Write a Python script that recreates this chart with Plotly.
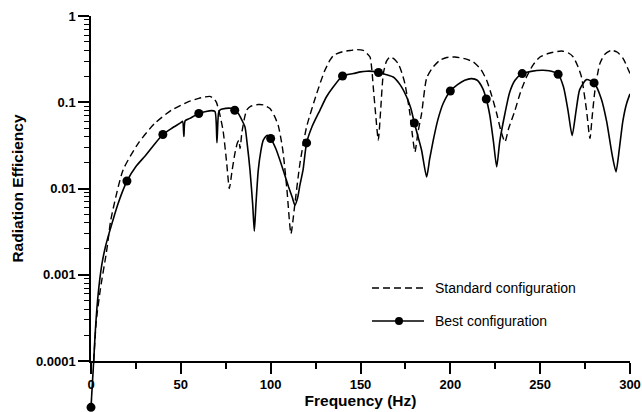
import math
import plotly.graph_objects as go

# ---------------- data ----------------
best_freq = [0, 1.5, 2.5, 4, 6, 8, 10, 12.5, 15, 17.5, 20, 25, 30, 35, 40, 45, 50, 51, 51.7, 52.4,
             55, 60, 64, 67, 69, 70.1, 71, 72, 75, 78, 80, 82, 84, 85.7, 87, 88.5, 90, 90.9, 91.8,
             93.1, 94.5, 95.9, 98, 100, 103, 107, 110, 112, 113.5, 115, 116.3, 118, 120, 123,
             127.4, 131, 134.8, 140, 143, 146, 150, 153.4, 157, 160, 164, 168.2, 172, 175.7, 178,
             180, 182, 184, 186.8, 188.5, 190.5, 193, 196, 200, 204, 208, 211.8, 215, 218, 220,
             222, 224, 225.8, 227.5, 230.4, 233, 236, 240, 245, 250.8, 255, 260, 263, 265.5,
             267.8, 270, 272, 275.8, 280, 284, 287, 290, 292.2, 294, 296, 298, 300]
best_eff = [2.9e-5, 1.0e-4, 2.4e-4, 6.0e-4, 1.3e-3, 2.1e-3, 3.0e-3, 4.5e-3, 6.6e-3, 9.2e-3, 0.0122,
            0.018, 0.0237, 0.032, 0.0423, 0.050, 0.058, 0.060, 0.040, 0.061,
            0.065, 0.074, 0.078, 0.080, 0.078, 0.034, 0.075, 0.082, 0.085, 0.085, 0.0807, 0.074,
            0.062, 0.0518, 0.032, 0.0163, 0.0065, 0.0032, 0.0065,
            0.0163, 0.027, 0.0363, 0.0415, 0.038, 0.0285, 0.0163, 0.0104, 0.0079, 0.0064, 0.0078,
            0.011, 0.0163, 0.0338, 0.052,
            0.0807, 0.115, 0.150, 0.2018, 0.21, 0.215, 0.225, 0.229, 0.228, 0.221, 0.21, 0.196,
            0.16, 0.115, 0.085,
            0.0575, 0.040, 0.0278, 0.0136, 0.022, 0.0363, 0.062, 0.0966, 0.135, 0.16, 0.18, 0.188,
            0.18, 0.145, 0.109,
            0.07, 0.035, 0.0178, 0.035, 0.074, 0.13, 0.18, 0.215, 0.228, 0.235, 0.232, 0.211,
            0.15, 0.08,
            0.041, 0.08, 0.14, 0.183, 0.1675, 0.11, 0.06, 0.025, 0.0156, 0.028, 0.06, 0.095, 0.125]

best_marker_freq = [0, 20, 40, 60, 80, 100, 120, 140, 160, 180, 200, 220, 240, 260, 280]
best_marker_eff = [2.9e-5, 0.0122, 0.0423, 0.074, 0.0807, 0.038, 0.0338, 0.2018, 0.221,
                   0.0575, 0.135, 0.109, 0.215, 0.211, 0.1675]

std_freq = [1.5, 3, 5.4, 8.5, 9.5, 11, 17.8, 26.2, 35.4, 44.7, 54, 60, 63.3, 66, 68, 69.7, 71.5,
            73.5, 75.5, 77, 78.5, 80.1, 81.5, 82.3, 83, 84, 86.6, 89, 93.1, 96, 99.6, 102, 104.2,
            106, 107, 109, 111.3, 113.5, 116.3, 120, 125.6, 130, 133, 135, 140, 145, 148, 151.5,
            153.5, 155.3, 156.3, 157.1, 158.5, 159.9, 161.2, 162.7, 164.5, 166.4, 168.5, 171,
            173, 174.7, 177.5, 179, 180.3, 182, 184, 186.8, 190, 194.2, 198, 202.6, 208, 212.8,
            217, 220.2, 223, 225.8, 228, 230.4, 232.5, 236, 239, 242.4, 246, 249.9, 255, 262,
            266, 268.4, 271, 273, 275.8, 277.7, 279, 280.5, 283.2, 286, 289.7, 293, 296.2, 300]
std_eff = [1.0e-4, 3.0e-4, 7.2e-4, 1.77e-3, 2.5e-3, 4.3e-3, 0.0163, 0.0332, 0.0567, 0.0807, 0.101,
           0.111, 0.115, 0.117, 0.112, 0.101, 0.075,
           0.047, 0.020, 0.0100, 0.016, 0.0255, 0.034, 0.036, 0.029, 0.045, 0.0807, 0.090, 0.094,
           0.093, 0.0845, 0.07, 0.054,
           0.035, 0.0255, 0.010, 0.0030, 0.0067, 0.0195, 0.0518, 0.126, 0.23, 0.307, 0.35, 0.385,
           0.40, 0.408, 0.40,
           0.37, 0.335, 0.24, 0.15, 0.07, 0.0363, 0.08, 0.215, 0.30, 0.335, 0.32, 0.28,
           0.22, 0.165, 0.074, 0.04, 0.0265, 0.045, 0.074, 0.19, 0.25, 0.307, 0.33, 0.335, 0.32,
           0.293,
           0.24, 0.18, 0.12, 0.074, 0.048, 0.0347, 0.05, 0.0807, 0.13, 0.196, 0.27, 0.335, 0.37,
           0.393,
           0.37, 0.335, 0.26, 0.196, 0.0807, 0.038, 0.07, 0.138, 0.28, 0.36, 0.40, 0.38, 0.32,
           0.215]

y_tick_vals = [1e-4, 1e-3, 1e-2, 1e-1, 1]
y_tick_text = ["0.0001", "0.001", "0.01", "0.1", "1"]
series_names = ["Standard configuration", "Best configuration"]
x_title = "Frequency (Hz)"
y_title = "Radiation Efficiency"

# ---------------- layout constants ----------------
W, H = 642, 412
ML, MR, MT, MB = 91, 12, 16, 51
X_RANGE = [0, 300]
Y_RANGE = [-4, 0]
FONT = "Liberation Sans, Arial, sans-serif"
MARKER_SIZE = 9


def px_to_paper_x(px):
    return (px - ML) / (W - ML - MR)


def px_to_paper_y(py):
    return (H - MB - py) / (H - MT - MB)


def data_to_paper(f, v):
    return ((f - X_RANGE[0]) / (X_RANGE[1] - X_RANGE[0]),
            (math.log10(v) - Y_RANGE[0]) / (Y_RANGE[1] - Y_RANGE[0]))


fig = go.Figure()

fig.add_trace(go.Scatter(
    x=std_freq, y=std_eff, mode="lines", name=series_names[0],
    line=dict(color="black", width=1.4, dash="7px,4px", shape="spline", smoothing=0.6),
    showlegend=False,
))
fig.add_trace(go.Scatter(
    x=best_freq, y=best_eff, mode="lines", name=series_names[1],
    line=dict(color="black", width=1.6, shape="spline", smoothing=0.6),
    showlegend=False,
))
fig.add_trace(go.Scatter(
    x=best_marker_freq, y=best_marker_eff, mode="markers", name=series_names[1],
    marker=dict(color="black", size=MARKER_SIZE), showlegend=False,
))

shapes = []
# parts of the best curve lying below the lower axis limit (plotly clips them), drawn in paper space
for i in range(len(best_freq) - 1):
    if best_eff[i] < 10 ** Y_RANGE[0]:
        p0 = data_to_paper(best_freq[i], best_eff[i])
        p1 = data_to_paper(best_freq[i + 1], best_eff[i + 1])
        shapes.append(dict(type="line", xref="paper", yref="paper", x0=p0[0], y0=p0[1],
                           x1=p1[0], y1=p1[1], line=dict(color="black", width=1.6), layer="above"))
for f, v in zip(best_marker_freq, best_marker_eff):
    if v < 10 ** Y_RANGE[0]:
        pm = data_to_paper(f, v)
        r = MARKER_SIZE / 2
        shapes.append(dict(type="circle", xref="paper", yref="paper", xsizemode="pixel",
                           ysizemode="pixel", xanchor=pm[0], yanchor=pm[1],
                           x0=-r, x1=r, y0=-r, y1=r, fillcolor="black",
                           line=dict(color="black", width=0), layer="above"))

# manual legend
leg_x0, leg_x1, leg_mid, leg_text = 372, 424, 399, 433
leg_y = [288, 321]
shapes.append(dict(type="line", xref="paper", yref="paper",
                   x0=px_to_paper_x(leg_x0), x1=px_to_paper_x(leg_x1),
                   y0=px_to_paper_y(leg_y[0]), y1=px_to_paper_y(leg_y[0]),
                   line=dict(color="black", width=1.4, dash="7px,4px")))
shapes.append(dict(type="line", xref="paper", yref="paper",
                   x0=px_to_paper_x(leg_x0), x1=px_to_paper_x(leg_x1),
                   y0=px_to_paper_y(leg_y[1]), y1=px_to_paper_y(leg_y[1]),
                   line=dict(color="black", width=1.6)))
shapes.append(dict(type="circle", xref="paper", yref="paper", xsizemode="pixel", ysizemode="pixel",
                   xanchor=px_to_paper_x(leg_mid), yanchor=px_to_paper_y(leg_y[1]),
                   x0=-4, x1=4, y0=-4, y1=4, fillcolor="black", line=dict(color="black", width=0)))

annotations = []
for name, yy in zip(series_names, leg_y):
    annotations.append(dict(text=name, xref="paper", yref="paper", x=px_to_paper_x(leg_text),
                            y=px_to_paper_y(yy), xanchor="left", yanchor="middle", showarrow=False,
                            font=dict(family=FONT, size=14, color="black")))

minor_y = [m * 10 ** e for e in range(-4, 0) for m in range(2, 10)]

fig.update_layout(
    width=W, height=H, margin=dict(l=ML, r=MR, t=MT, b=MB, autoexpand=False),
    paper_bgcolor="white", plot_bgcolor="white",
    font=dict(family=FONT, color="black"),
    shapes=shapes, annotations=annotations, showlegend=False,
    xaxis=dict(
        range=X_RANGE, showline=True, linecolor="black", linewidth=1.5, showgrid=False,
        zeroline=False, ticks="outside", ticklen=11, tickwidth=1.5, tickcolor="black",
        tick0=0, dtick=50,
        tickfont=dict(family=FONT, size=13, weight="bold", color="black"),
        minor=dict(ticks="outside", ticklen=6, tickwidth=1.5, tickcolor="black", dtick=25, tick0=0,
                   showgrid=False),
        title=dict(text=x_title, font=dict(family=FONT, size=15.5, weight="bold", color="black"),
                   standoff=2),
        automargin=False,
    ),
    yaxis=dict(
        type="log", range=Y_RANGE, showline=True, linecolor="black", linewidth=1.5,
        showgrid=False, zeroline=False, ticks="outside", ticklen=11, tickwidth=1.5,
        tickcolor="black", tickmode="array", tickvals=y_tick_vals, ticktext=y_tick_text,
        tickfont=dict(family=FONT, size=13, weight="bold", color="black"),
        minor=dict(ticks="outside", ticklen=5, tickwidth=1.2, tickcolor="black",
                   tickmode="array", tickvals=minor_y, showgrid=False),
        title=dict(text=y_title, font=dict(family=FONT, size=15.5, weight="bold", color="black"),
                   standoff=8),
        automargin=False,
    ),
)

fig.write_html("out.html")
